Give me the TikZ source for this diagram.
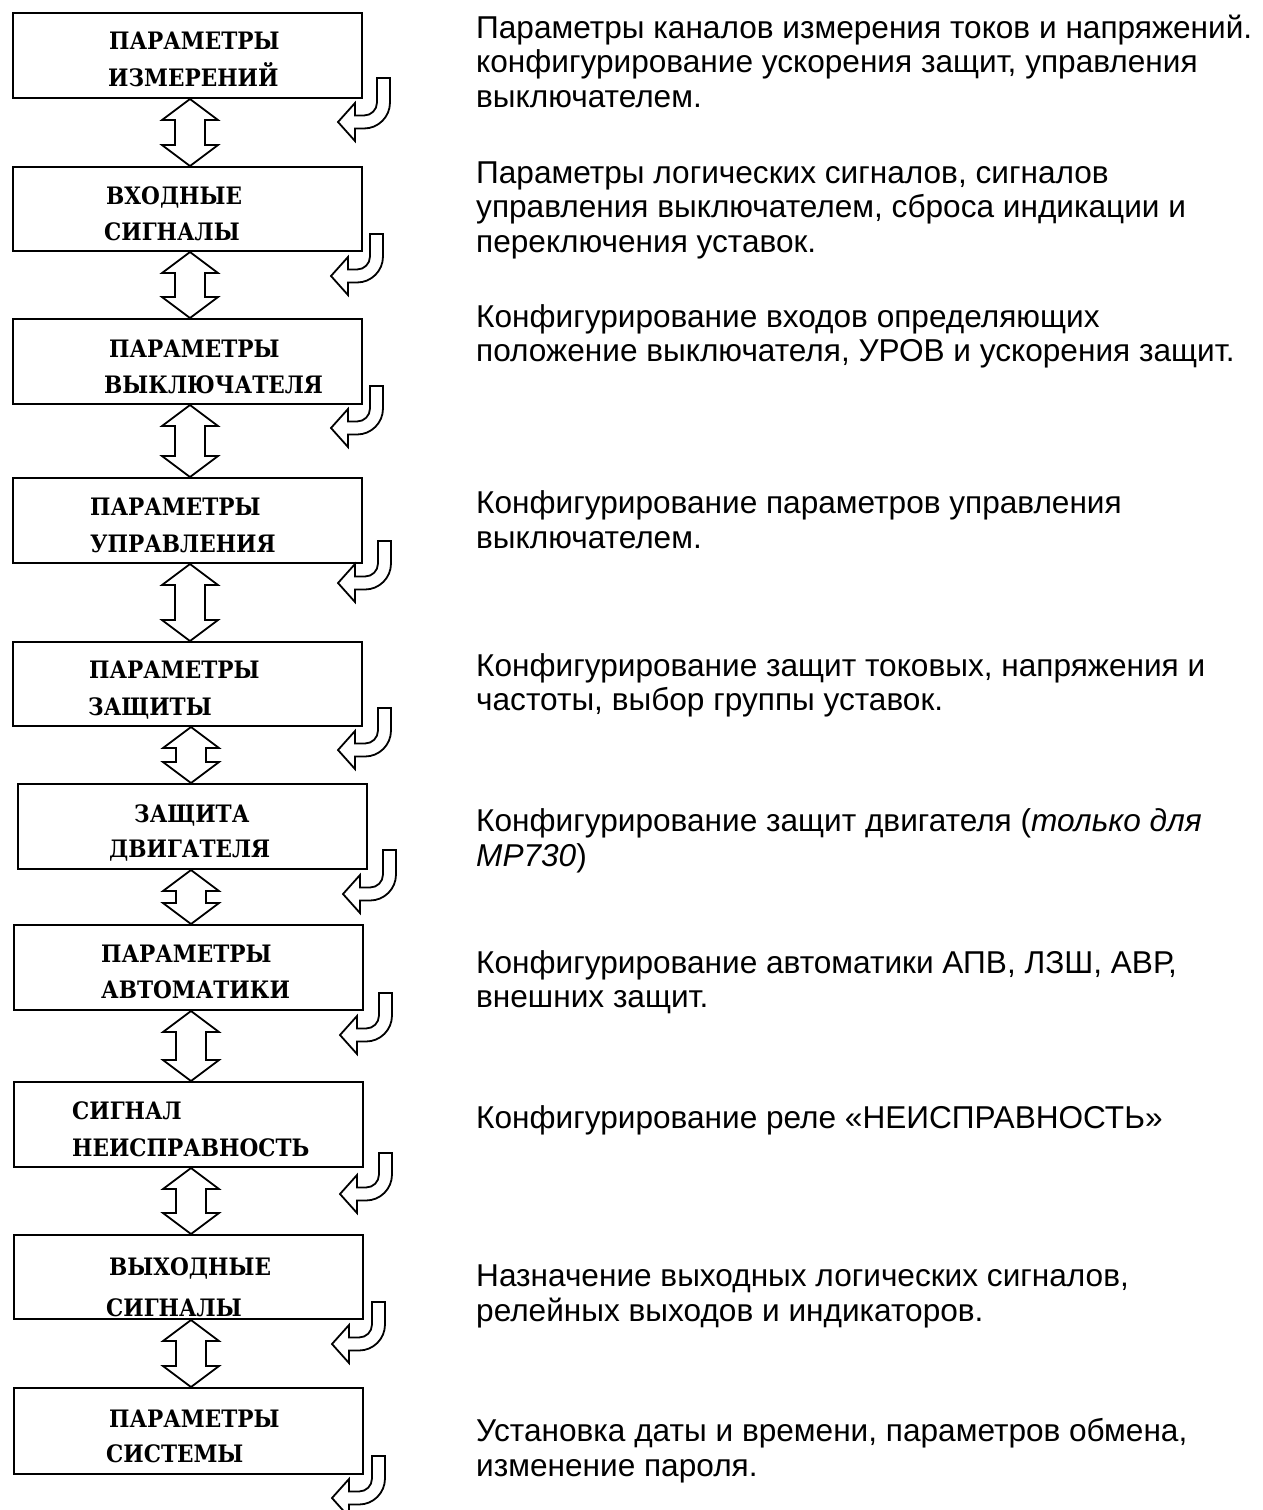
\documentclass[tikz,border=0pt]{standalone}
\usepackage{fontspec}
\setmainfont{Liberation Sans}
\newfontfamily\boxfont{DejaVu Serif}[FakeStretch=0.9]
\usetikzlibrary{calc}
\tikzset{
 box/.style={draw, line width=2pt, minimum width=349pt, inner sep=0pt, anchor=north west},
 bt/.style={font=\boxfont\bfseries\fontsize{24}{36}\selectfont, anchor=base west, inner sep=0pt},
 dt/.style={font=\fontsize{31.6}{34.5}\selectfont, anchor=base west, inner sep=0pt},
 arr/.style={draw, line width=1.8pt, line join=miter, fill=white},
}
\newcommand\hookarrow[4]{% R, top, tipx, tipy
 \path[arr] (#1-13,#2) -- (#1,#2) -- (#1,#4-19.5) arc[start angle=0,end angle=90,radius=26]
  -- (#3+17,#4+6.5) -- (#3+17,#4+19) -- (#3,#4) -- (#3+17,#4-19) -- (#3+17,#4-6.5)
  -- (#1-26,#4-6.5) arc[start angle=90,end angle=0,radius=13] -- cycle;}
\newcommand\dbl[3]{% x, upper node, lower node
 \path[arr] let \p1=(#2.south), \p2=(#3.north) in
  (#1pt,\y1) -- (#1pt+28pt,\y1-21pt) -- (#1pt+15pt,\y1-21pt) -- (#1pt+15pt,\y2+21pt)
  -- (#1pt+28pt,\y2+21pt) -- (#1pt,\y2) -- (#1pt-28pt,\y2+21pt) -- (#1pt-15pt,\y2+21pt)
  -- (#1pt-15pt,\y1-21pt) -- (#1pt-28pt,\y1-21pt) -- cycle;}
\begin{document}
\begin{tikzpicture}[x=1pt,y=-1pt]
\useasboundingbox (0,0) rectangle (1263,1510);
% boxes
\node[box, minimum height=85pt] (b1) at (12,12) {};
\node[box, minimum height=84pt] (b2) at (12,166) {};
\node[box, minimum height=85pt] (b3) at (12,318) {};
\node[box, minimum height=85pt] (b4) at (12,477) {};
\node[box, minimum height=84pt] (b5) at (12,641) {};
\node[box, minimum height=85pt] (b6) at (17,783) {};
\node[box, minimum height=85pt] (b7) at (13,924) {};
\node[box, minimum height=85pt] (b8) at (13,1081) {};
\node[box, minimum height=84pt] (b9) at (13,1234) {};
\node[box, minimum height=86pt] (b10) at (13,1387) {};
% box texts
\node[bt] (t1a) at (109,49) {ПАРАМЕТРЫ};
\node[bt] (t1b) at (108,86) {ИЗМЕРЕНИЙ};
\node[bt] (t2a) at (106,204) {ВХОДНЫЕ};
\node[bt] (t2b) at (104,240) {СИГНАЛЫ};
\node[bt] (t3a) at (109,357) {ПАРАМЕТРЫ};
\node[bt] (t3b) at (104,393) {ВЫКЛЮЧАТЕЛЯ};
\node[bt] (t4a) at (90,515) {ПАРАМЕТРЫ};
\node[bt] (t4b) at (90,552) {УПРАВЛЕНИЯ};
\node[bt] (t5a) at (89,678) {ПАРАМЕТРЫ};
\node[bt] (t5b) at (88,715) {ЗАЩИТЫ};
\node[bt] (t6a) at (134,822) {ЗАЩИТА};
\node[bt] (t6b) at (109,857) {ДВИГАТЕЛЯ};
\node[bt] (t7a) at (101,962) {ПАРАМЕТРЫ};
\node[bt] (t7b) at (101,998) {АВТОМАТИКИ};
\node[bt] (t8a) at (72,1119) {СИГНАЛ};
\node[bt] (t8b) at (72,1156) {НЕИСПРАВНОСТЬ};
\node[bt] (t9a) at (109,1275) {ВЫХОДНЫЕ};
\node[bt] (t9b) at (106,1316) {СИГНАЛЫ};
\node[bt] (t10a) at (109,1427) {ПАРАМЕТРЫ};
\node[bt] (t10b) at (106,1462) {СИСТЕМЫ};
% double arrows
\dbl{190}{b1}{b2}
\dbl{190}{b2}{b3}
\dbl{190}{b3}{b4}
\dbl{190}{b4}{b5}
\dbl{191}{b5}{b6}
\dbl{191}{b6}{b7}
\dbl{191}{b7}{b8}
\dbl{191}{b8}{b9}
\dbl{191}{b9}{b10}
% hook arrows
\hookarrow{390}{78}{338}{122}
\hookarrow{383}{234}{331}{276}
\hookarrow{383}{386}{331}{428}
\hookarrow{391}{541}{338}{583}
\hookarrow{391}{708}{338}{750}
\hookarrow{396}{850}{343}{894}
\hookarrow{392}{993}{340}{1035}
\hookarrow{392}{1153}{340}{1194}
\hookarrow{385}{1302}{332}{1344}
\hookarrow{385}{1456}{332}{1498}
% descriptions
\node[dt] (d1a) at (476,38) {Параметры каналов измерения токов и напряжений.};
\node[dt] (d1b) at (476,72) {конфигурирование ускорения защит, управления};
\node[dt] (d1c) at (476,107) {выключателем.};
\node[dt] (d2a) at (476,183) {Параметры логических сигналов, сигналов};
\node[dt] (d2b) at (476,217) {управления выключателем, сброса индикации и};
\node[dt] (d2c) at (476,252) {переключения уставок.};
\node[dt] (d3a) at (476,327) {Конфигурирование входов определяющих};
\node[dt] (d3b) at (476,361) {положение выключателя, УРОВ и ускорения защит.};
\node[dt] (d4a) at (476,513) {Конфигурирование параметров управления};
\node[dt] (d4b) at (476,548) {выключателем.};
\node[dt] (d5a) at (476,676) {Конфигурирование защит токовых, напряжения и};
\node[dt] (d5b) at (476,710) {частоты, выбор группы уставок.};
\node[dt] (d6a) at (476,831) {Конфигурирование защит двигателя (\textit{только для}};
\node[dt] (d6b) at (476,866) {\textit{МР730})};
\node[dt] (d7a) at (476,973) {Конфигурирование автоматики АПВ, ЛЗШ, АВР,};
\node[dt] (d7b) at (476,1007) {внешних защит.};
\node[dt] (d8a) at (476,1128) {Конфигурирование реле «НЕИСПРАВНОСТЬ»};
\node[dt] (d9a) at (476,1286) {Назначение выходных логических сигналов,};
\node[dt] (d9b) at (476,1321) {релейных выходов и индикаторов.};
\node[dt] (d10a) at (476,1441) {Установка даты и времени, параметров обмена,};
\node[dt] (d10b) at (476,1476) {изменение пароля.};
\end{tikzpicture}
\end{document}
